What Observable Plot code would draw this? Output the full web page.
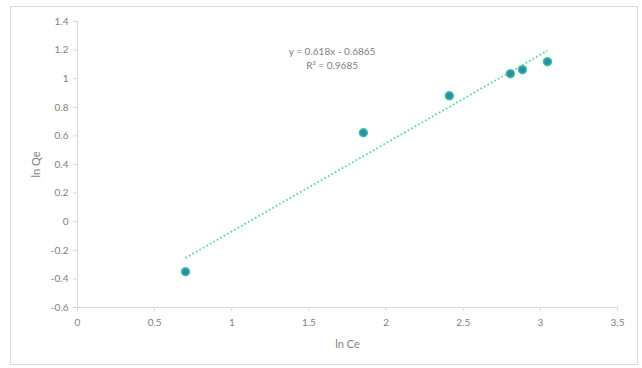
<!DOCTYPE html>
<html>
<head>
<meta charset="utf-8">
<script src="https://cdn.jsdelivr.net/npm/d3@7"></script>
<script src="https://cdn.jsdelivr.net/npm/@observablehq/plot@0.6"></script>
<style>
  html, body { margin: 0; padding: 0; background: #fff; }
  #wrap { position: relative; width: 642px; height: 368px; }
  #border { position: absolute; left: 10px; top: 6px; width: 626px; height: 357px; border: 1px solid #d9d9d9; pointer-events: none; }
</style>
</head>
<body>
<div id="wrap"><div id="border"></div></div>
<script>
const lnCe = [0.70, 1.853, 2.41, 2.806, 2.884, 3.046];
const lnQe = [-0.35, 0.622, 0.88, 1.035, 1.063, 1.119];
const xTicks = [0, 0.5, 1, 1.5, 2, 2.5, 3, 3.5];
const yTicks = [-0.6, -0.4, -0.2, 0, 0.2, 0.4, 0.6, 0.8, 1, 1.2, 1.4];
const slope = 0.618;
const intercept = -0.6865;
const r2 = 0.9685;

const points = lnCe.map((x, i) => ({x, y: lnQe[i]}));
const xExt = d3.extent(lnCe);
const trend = xExt.map(x => ({x, y: slope * x + intercept}));
const fmt = d => String(d);

const gray = "#7f7f7f";
const axisGray = "#d9d9d9";

const chart = Plot.plot({
  width: 642,
  height: 368,
  marginLeft: 77,
  marginRight: 25,
  marginTop: 21,
  marginBottom: 61,
  style: { fontFamily: "Lato, 'Open Sans', sans-serif", fontSize: "10px", background: "transparent" },
  x: { domain: [0, 3.5] },
  y: { domain: [-0.6, 1.4] },
  marks: [
    Plot.ruleX([0], { stroke: axisGray, strokeWidth: 1 }),
    Plot.ruleY([-0.6], { stroke: axisGray, strokeWidth: 1 }),
    Plot.axisX({ ticks: xTicks, tickSize: 4, tickPadding: 7, stroke: axisGray, fill: gray, tickFormat: fmt, label: null }),
    Plot.axisY({ ticks: yTicks, tickSize: 4, tickPadding: 5, stroke: axisGray, fill: gray, tickFormat: fmt, label: null }),
    Plot.axisX({ ticks: [], label: "ln Ce", labelAnchor: "center", labelOffset: 40, labelArrow: "none", fill: gray, fontSize: 11 }),
    Plot.axisY({ ticks: [], label: "ln Qe", labelAnchor: "center", labelOffset: 45, labelArrow: "none", fill: gray, fontSize: 11 }),
    Plot.line(trend, { x: "x", y: "y", stroke: "#62d69c", strokeWidth: 1.8, strokeDasharray: "1.8,2.2", strokeLinecap: "butt" }),
    Plot.dot(points, { x: "x", y: "y", r: 4, fill: "#3189b0", stroke: "#3fc79c", strokeWidth: 1.5 }),
    Plot.text([`y = ${slope}x - ${Math.abs(intercept)}\nR² = ${r2}`], {
      x: 1.65, y: 1.147, fill: gray, fontSize: 10, lineHeight: 1.35, textAnchor: "middle"
    })
  ]
});
document.getElementById("wrap").appendChild(chart);
chart.style.position = "absolute";
chart.style.left = "0";
chart.style.top = "0";
</script>
</body>
</html>
